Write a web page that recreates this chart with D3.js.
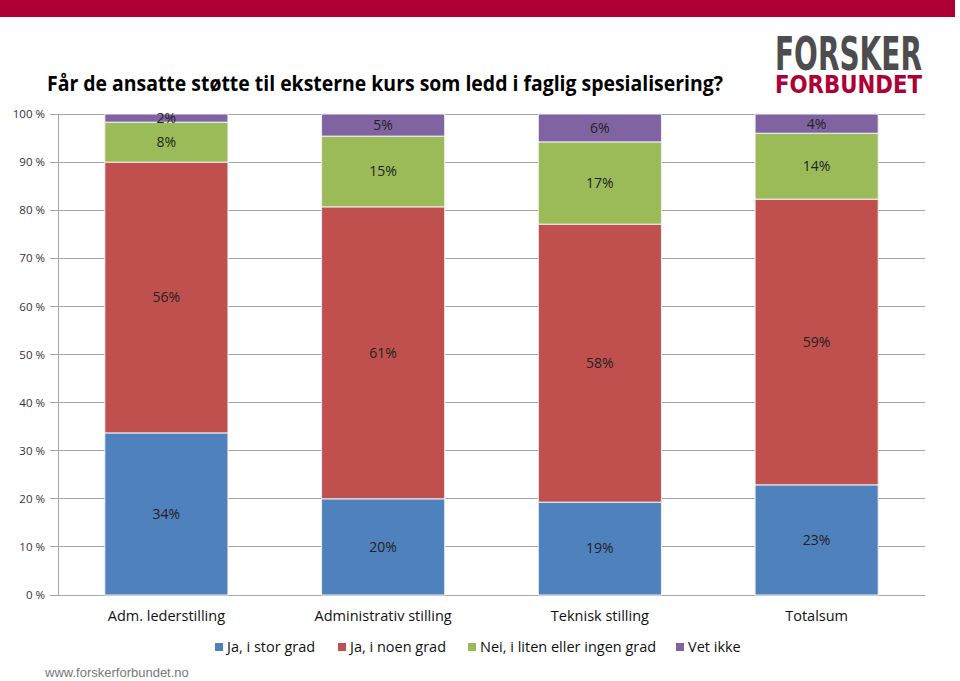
<!DOCTYPE html>
<html><head><meta charset="utf-8">
<script src="https://cdn.jsdelivr.net/npm/d3@7"></script>
<style>body{margin:0;background:#fff}svg{display:block}</style>
</head><body>
<script>
const categories = ["Adm. lederstilling","Administrativ stilling","Teknisk stilling","Totalsum"];
const seriesNames = ["Ja, i stor grad","Ja, i noen grad","Nei, i liten eller ingen grad","Vet ikke"];
const jaStor = [33.7, 20.0, 19.3, 22.9];
const jaNoen = [56.3, 60.7, 57.8, 59.4];
const nei = [8.3, 14.7, 17.1, 13.7];
const vetIkke = [1.7, 4.6, 5.8, 4.0];
const labelTexts = [["34%","20%","19%","23%"],["56%","61%","58%","59%"],["8%","15%","17%","14%"],["2%","5%","6%","4%"]];
const tickValues = [0,10,20,30,40,50,60,70,80,90,100];
const colors = ["#4F81BD","#C0504D","#9BBB59","#8064A2"];

const W=960,H=681;
const svg=d3.select("body").append("svg").attr("width",W).attr("height",H);
svg.append("rect").attr("x",0).attr("y",0).attr("width",955).attr("height",17).attr("fill","#AE0036");

const x=d3.scaleBand().domain(categories).range([58,925]).paddingInner(0.432).paddingOuter(0.216);
const y=d3.scaleLinear().domain([0,100]).range([595,114]);

// grid
svg.append("g").selectAll("line").data(tickValues).join("line")
 .attr("x1",50).attr("x2",925).attr("y1",d=>y(d)).attr("y2",d=>y(d))
 .attr("stroke","#a6a6a6").attr("stroke-width",1).attr("shape-rendering","crispEdges");
svg.append("line").attr("x1",58).attr("x2",58).attr("y1",114).attr("y2",595).attr("stroke","#a6a6a6").attr("shape-rendering","crispEdges");

const yAxis=d3.axisLeft(y).tickValues(tickValues).tickFormat(d=>d+" %").tickSize(0).tickPadding(13);
const ga=svg.append("g").attr("transform","translate(58,0)").call(yAxis);
ga.select(".domain").remove();
ga.selectAll("text").attr("font-family","Open Sans, sans-serif").attr("font-size",11.5).attr("fill","#333");

const table=categories.map((c,i)=>({cat:c,s0:jaStor[i],s1:jaNoen[i],s2:nei[i],s3:vetIkke[i],i}));
const stack=d3.stack().keys(["s0","s1","s2","s3"])(table);
const g=svg.append("g");
stack.forEach((layer,k)=>{
  g.append("g").selectAll("rect").data(layer).join("rect")
   .attr("x",d=>x(d.data.cat)).attr("width",x.bandwidth())
   .attr("y",d=>y(d[1])).attr("height",d=>y(d[0])-y(d[1]))
   .attr("fill",colors[k]).attr("stroke","#eef0f4").attr("stroke-width",1);
  g.append("g").selectAll("text").data(layer).join("text")
   .attr("x",d=>x(d.data.cat)+x.bandwidth()/2)
   .attr("y",d=>(y(d[0])+y(d[1]))/2).attr("dy","0.35em")
   .attr("text-anchor","middle").attr("font-family","Open Sans, sans-serif").attr("font-size",14)
   .attr("fill","#222").text(d=>labelTexts[k][d.data.i]);
});

// category labels
svg.append("g").selectAll("text").data(categories).join("text")
 .attr("x",d=>x(d)+x.bandwidth()/2).attr("y",621).attr("text-anchor","middle")
 .attr("font-family","Open Sans, sans-serif").attr("font-size",14.5).attr("fill","#111").text(d=>d);

// legend
const legX=[215,338,468,676];
const lg=svg.append("g");
seriesNames.forEach((n,i)=>{
  lg.append("rect").attr("x",legX[i]).attr("y",643).attr("width",8).attr("height",8).attr("fill",colors[i]);
  lg.append("text").attr("x",legX[i]+12).attr("y",652).attr("font-family","Open Sans, sans-serif")
   .attr("font-size",14.5).attr("fill","#111").text(n);
});

// title
svg.append("text").attr("x",47).attr("y",91).attr("font-family","Open Sans, sans-serif").attr("font-weight","bold")
 .attr("font-size",21).attr("fill","#000").attr("textLength",676).attr("lengthAdjust","spacingAndGlyphs")
 .text("Får de ansatte støtte til eksterne kurs som ledd i faglig spesialisering?");

// logo
svg.append("text").attr("transform","translate(775,70) scale(1,1.5)")
 .attr("font-family","DejaVu Sans Condensed, DejaVu Sans, sans-serif")
 .attr("font-weight","bold").attr("font-size",31).attr("fill","#4d4d4f").attr("textLength",147).attr("lengthAdjust","spacingAndGlyphs").text("FORSKER");
svg.append("text").attr("transform","translate(775,93) scale(1,1.2)")
 .attr("font-family","DejaVu Sans, sans-serif")
 .attr("font-weight","bold").attr("font-size",21).attr("fill","#AE0036").attr("textLength",147).attr("lengthAdjust","spacingAndGlyphs").text("FORBUNDET");

// footer
svg.append("text").attr("x",45).attr("y",677).attr("font-family","Liberation Sans, Arial, sans-serif")
 .attr("font-size",13).attr("fill","#777").text("www.forskerforbundet.no");
</script>
</body></html>
